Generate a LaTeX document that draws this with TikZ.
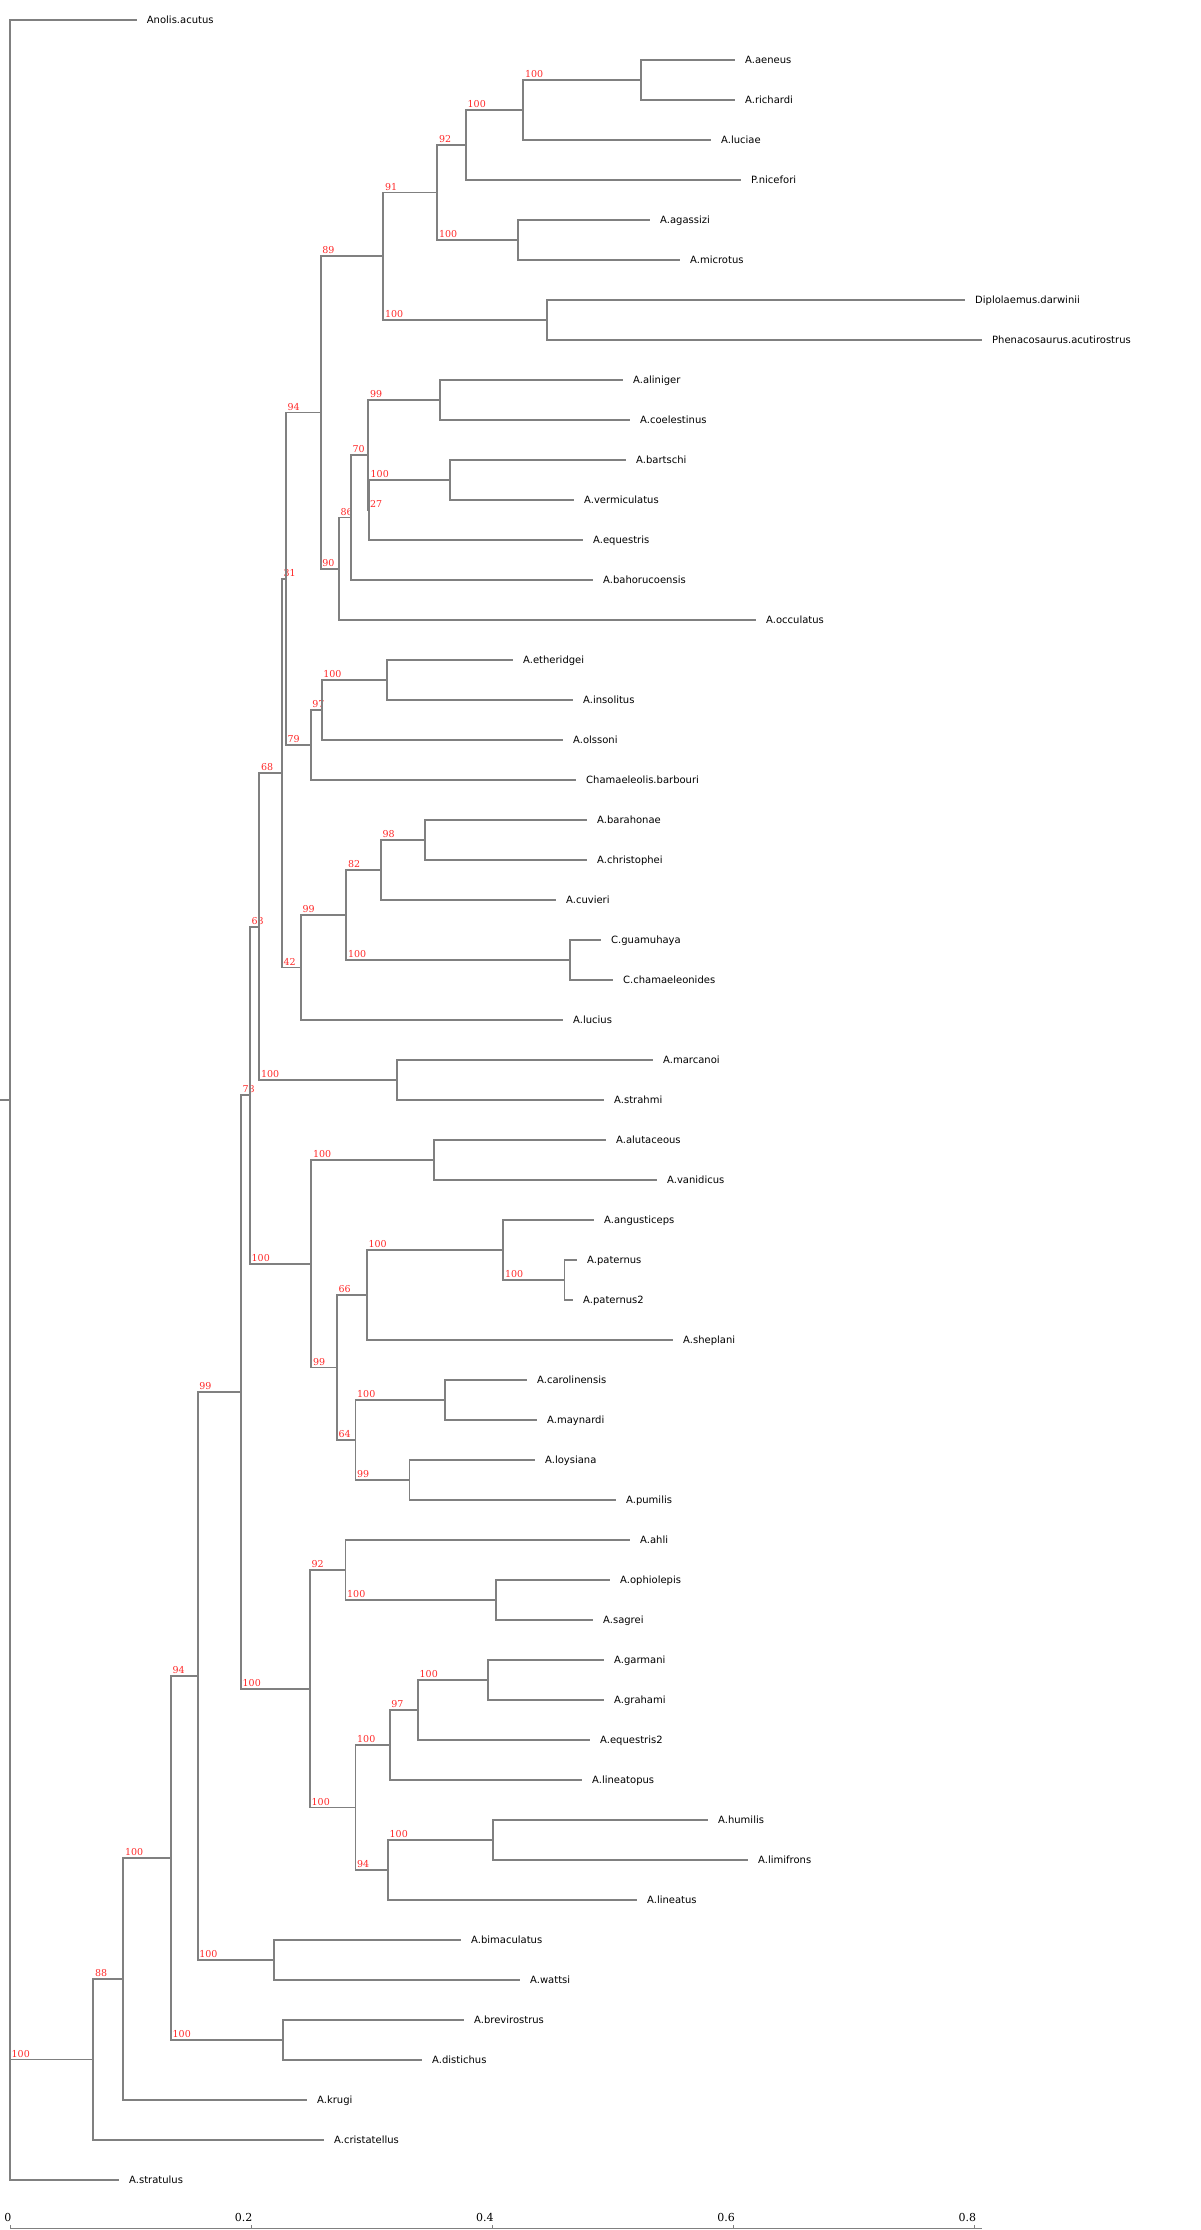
\documentclass[tikz,border=0pt]{standalone}
\usepackage{fontspec}
\setmainfont{DejaVu Sans}
\newfontfamily\bsfont{DejaVu Serif}
\definecolor{brgray}{RGB}{128,128,128}
\definecolor{bsred}{RGB}{255,40,40}
\tikzset{
 br/.style={draw=brgray, line width=1.9pt},
 leaf/.style={anchor=base west, inner sep=0pt, xshift=10pt, yshift=-3.5pt, font=\fontsize{10}{12}\selectfont},
 bs/.style={anchor=base west, inner sep=0pt, xshift=1.5pt, yshift=2.5pt, text=bsred, font=\bsfont\fontsize{9.5}{11}\selectfont},
 axisline/.style={draw=brgray, line width=1pt},
 ticklbl/.style={anchor=base east, inner sep=0pt, xshift=1.5pt, yshift=7pt, font=\bsfont\fontsize{11}{13}\selectfont}
}
\newcommand\brn[3]{\draw[br] (#1) |- (#2); \node[bs] (bs-#2) at (#1 |- #2) {#3};}
\newcommand\lf[5]{\coordinate (#2) at (#3,#4); \draw[br] (#1) |- (#2); \node[leaf] (#2-t) at (#2) {#5};}
\begin{document}
\begin{tikzpicture}[x=1pt,y=-1pt]
\useasboundingbox (0,0) rectangle (1200,2230);
% internal nodes
\coordinate (stem) at (0,1100);
\coordinate (nR0) at (10,1100);
\coordinate (nA) at (93.3,2059.5);
\coordinate (nB) at (123.3,1979);
\coordinate (nC) at (171,1858);
\coordinate (nD) at (197.6,1676);
\coordinate (nBD) at (283,2040);
\coordinate (nE) at (241,1392);
\coordinate (nBW) at (274.4,1960);
\coordinate (nF) at (310,1688.75);
\coordinate (nL) at (250,1095.16);
\coordinate (nG) at (345.5,1570);
\coordinate (nH) at (355.5,1807.5);
\coordinate (nOS) at (496,1600);
\coordinate (nI) at (389.6,1745);
\coordinate (nJ) at (418,1710);
\coordinate (nGG) at (487.7,1680);
\coordinate (nK) at (388,1870);
\coordinate (nHL) at (493.4,1840);
\coordinate (nM) at (259.3,926.56);
\coordinate (nAD) at (311.4,1263.75);
\coordinate (nN) at (282,773.125);
\coordinate (nO) at (286,578.75);
\coordinate (nP) at (301,967.5);
\coordinate (nQ) at (320.7,412.5);
\coordinate (nT) at (310.7,745);
\coordinate (nU) at (321.7,710);
\coordinate (nEI) at (387,680);
\coordinate (nV) at (383.3,256.25);
\coordinate (nW) at (339,568.75);
\coordinate (nAA) at (351,517.5);
\coordinate (nAB) at (368.3,455);
\coordinate (nAC) at (369,510);
\coordinate (nAL) at (440,400);
\coordinate (nBV) at (450,480);
\coordinate (nX) at (437.3,192.5);
\coordinate (nY) at (466,145);
\coordinate (nZ) at (523.3,110);
\coordinate (nAR) at (641,80);
\coordinate (nAM) at (518.3,240);
\coordinate (nDP) at (547.4,320);
\coordinate (nR) at (346.3,915);
\coordinate (nS) at (381,870);
\coordinate (nBC) at (425,840);
\coordinate (nCG) at (570,960);
\coordinate (nMS) at (396.7,1080);
\coordinate (nAV) at (433.6,1160);
\coordinate (nAE) at (337,1367.5);
\coordinate (nAF) at (366.8,1295);
\coordinate (nAG) at (503.3,1250);
\coordinate (nPT) at (564.5,1280);
\coordinate (nAH) at (355.5,1440);
\coordinate (nCM) at (445,1400);
\coordinate (nLP) at (409.5,1480);
% root
\draw[br] (stem) -- (nR0);
\lf{nR0}{t1}{136.7}{20}{Anolis.acutus}
\brn{nR0}{nA}{100}
\lf{nR0}{t55}{119}{2180}{A.stratulus}
% bottom
\brn{nA}{nB}{88}
\lf{nA}{t54}{324}{2140}{A.cristatellus}
\brn{nB}{nC}{100}
\lf{nB}{t53}{307}{2100}{A.krugi}
\brn{nC}{nD}{94}
\brn{nC}{nBD}{100}
\lf{nBD}{t51}{464}{2020}{A.brevirostrus}
\lf{nBD}{t52}{422}{2060}{A.distichus}
\brn{nD}{nE}{99}
\brn{nD}{nBW}{100}
\lf{nBW}{t49}{461}{1940}{A.bimaculatus}
\lf{nBW}{t50}{520}{1980}{A.wattsi}
% middle
\brn{nE}{nL}{78}
\brn{nE}{nF}{100}
\brn{nL}{nM}{63}
\brn{nL}{nAD}{100}
\brn{nM}{nN}{68}
\brn{nM}{nMS}{100}
\lf{nMS}{t27}{653}{1060}{A.marcanoi}
\lf{nMS}{t28}{604}{1100}{A.strahmi}
\brn{nAD}{nAV}{100}
\brn{nAD}{nAE}{99}
\lf{nAV}{t29}{606}{1140}{A.alutaceous}
\lf{nAV}{t30}{657}{1180}{A.vanidicus}
\brn{nAE}{nAF}{66}
\brn{nAE}{nAH}{64}
\brn{nAF}{nAG}{100}
\lf{nAF}{t34}{673}{1340}{A.sheplani}
\lf{nAG}{t31}{594}{1220}{A.angusticeps}
\brn{nAG}{nPT}{100}
\lf{nPT}{t32}{577}{1260}{A.paternus}
\lf{nPT}{t33}{573}{1300}{A.paternus2}
\brn{nAH}{nCM}{100}
\brn{nAH}{nLP}{99}
\lf{nCM}{t35}{527}{1380}{A.carolinensis}
\lf{nCM}{t36}{537}{1420}{A.maynardi}
\lf{nLP}{t37}{535}{1460}{A.loysiana}
\lf{nLP}{t38}{616}{1500}{A.pumilis}
\brn{nF}{nG}{92}
\brn{nF}{nH}{100}
\lf{nG}{t39}{630}{1540}{A.ahli}
\brn{nG}{nOS}{100}
\lf{nOS}{t40}{610}{1580}{A.ophiolepis}
\lf{nOS}{t41}{593}{1620}{A.sagrei}
\brn{nH}{nI}{100}
\brn{nH}{nK}{94}
\brn{nI}{nJ}{97}
\lf{nI}{t45}{582}{1780}{A.lineatopus}
\brn{nJ}{nGG}{100}
\lf{nJ}{t44}{590}{1740}{A.equestris2}
\lf{nGG}{t42}{604}{1660}{A.garmani}
\lf{nGG}{t43}{604}{1700}{A.grahami}
\brn{nK}{nHL}{100}
\lf{nK}{t48}{637}{1900}{A.lineatus}
\lf{nHL}{t46}{708}{1820}{A.humilis}
\lf{nHL}{t47}{748}{1860}{A.limifrons}
% top
\brn{nN}{nO}{31}
\brn{nN}{nP}{42}
\brn{nO}{nQ}{94}
\brn{nO}{nT}{79}
\brn{nQ}{nV}{89}
\brn{nQ}{nW}{90}
\brn{nV}{nX}{91}
\brn{nV}{nDP}{100}
\brn{nX}{nY}{92}
\brn{nX}{nAM}{100}
\brn{nY}{nZ}{100}
\lf{nY}{t5}{741}{180}{P.nicefori}
\brn{nZ}{nAR}{100}
\lf{nZ}{t4}{711}{140}{A.luciae}
\lf{nAR}{t2}{735}{60}{A.aeneus}
\lf{nAR}{t3}{735}{100}{A.richardi}
\lf{nAM}{t6}{650}{220}{A.agassizi}
\lf{nAM}{t7}{680}{260}{A.microtus}
\lf{nDP}{t8}{965}{300}{Diplolaemus.darwinii}
\lf{nDP}{t9}{982}{340}{Phenacosaurus.acutirostrus}
\brn{nW}{nAA}{86}
\lf{nW}{t16}{756}{620}{A.occulatus}
\brn{nAA}{nAB}{70}
\lf{nAA}{t15}{593}{580}{A.bahorucoensis}
\brn{nAB}{nAL}{99}
\brn{nAB}{nAC}{27}
\lf{nAL}{t10}{623}{380}{A.aliniger}
\lf{nAL}{t11}{630}{420}{A.coelestinus}
\brn{nAC}{nBV}{100}
\lf{nAC}{t14}{583}{540}{A.equestris}
\lf{nBV}{t12}{626}{460}{A.bartschi}
\lf{nBV}{t13}{574}{500}{A.vermiculatus}
\brn{nT}{nU}{97}
\lf{nT}{t20}{576}{780}{Chamaeleolis.barbouri}
\brn{nU}{nEI}{100}
\lf{nU}{t19}{563}{740}{A.olssoni}
\lf{nEI}{t17}{513}{660}{A.etheridgei}
\lf{nEI}{t18}{573}{700}{A.insolitus}
\brn{nP}{nR}{99}
\lf{nP}{t26}{563}{1020}{A.lucius}
\brn{nR}{nS}{82}
\brn{nR}{nCG}{100}
\brn{nS}{nBC}{98}
\lf{nS}{t23}{556}{900}{A.cuvieri}
\lf{nBC}{t21}{587}{820}{A.barahonae}
\lf{nBC}{t22}{587}{860}{A.christophei}
\lf{nCG}{t24}{601}{940}{C.guamuhaya}
\lf{nCG}{t25}{613}{980}{C.chamaeleonides}
% axis
\coordinate (ax0) at (10,2228);
\coordinate (ax1) at (982,2228);
\draw[axisline] (ax0) -- (ax1);
\foreach \v/\lab [count=\k] in {0/0,0.2/0.2,0.4/0.4,0.6/0.6,0.8/0.8}{
  \coordinate (tk\k) at ({10+1205.9*\v},2228);
  \draw[axisline] (tk\k) -- ++(0,-3.5);
  \node[ticklbl] (tl\k) at (tk\k) {\lab};
}
\end{tikzpicture}
\end{document}
